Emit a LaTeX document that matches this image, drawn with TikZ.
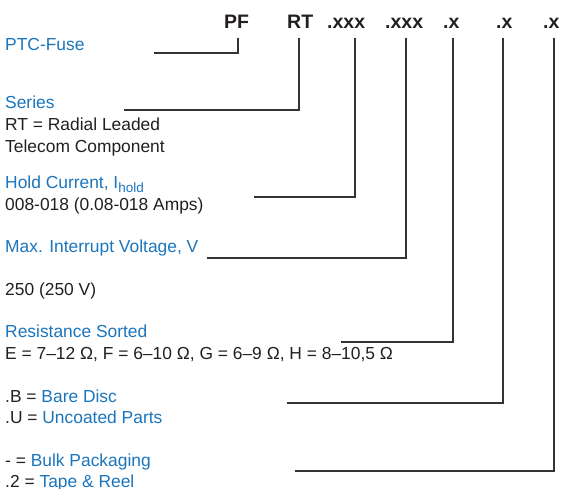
\documentclass[tikz,border=0pt]{standalone}
\usepackage{fontspec}
\setmainfont{Liberation Sans}
\definecolor{textblue}{HTML}{1B75BC}
\definecolor{textblack}{HTML}{231F20}
\definecolor{linegray}{HTML}{333333}
\begin{document}
\begin{tikzpicture}[x=1pt,y=-1pt,
  lblblue/.style={anchor=base west, inner sep=0pt, font=\fontsize{17.4}{20}\selectfont, text=textblue},
  lblblack/.style={anchor=base west, inner sep=0pt, font=\fontsize{17.4}{20}\selectfont, text=textblack},
  hdr/.style={anchor=base west, inner sep=0pt, font=\fontsize{19.5}{22}\selectfont\bfseries, text=textblack},
  conn/.style={draw=linegray, line width=1.3pt}]
\useasboundingbox (0,0) rectangle (561,488);
% header
\node[hdr] (hPF) at (224,28) {PF};
\node[hdr] (hRT) at (287,28) {RT};
\node[hdr] (hA) at (327,28) {.xxx};
\node[hdr] (hB) at (385,28) {.xxx};
\node[hdr] (hC) at (443,28) {.x};
\node[hdr] (hD) at (496,28) {.x};
\node[hdr] (hE) at (543,28) {.x};
% labels
\node[lblblue] (fuse) at (5,50) {PTC-Fuse};
\node[lblblue] (series) at (5,108) {Series};
\node[lblblack] (rt) at (5,130) {RT = Radial Leaded};
\node[lblblack] (tel) at (5,152) {Telecom Component};
\node[lblblue] (hold) at (5,188) {Hold Current, I\raisebox{-4pt}{\fontsize{13.5}{13}\selectfont hold}};
\node[lblblack] (holdv) at (5,210) {008-018 (0.08-018 Amps)};
\node[lblblue] (volt) at (5,252) {Max. Interrupt Voltage, V};
\node[lblblack] (voltv) at (5,295) {250 (250 V)};
\node[lblblue] (res) at (5,337) {Resistance Sorted};
\node[lblblack] (resv) at (5,359) {E = 7–12 Ω, F = 6–10 Ω, G = 6–9 Ω, H = 8–10,5 Ω};
\node[lblblack] (bare) at (5,402) {.B = \textcolor{textblue}{Bare Disc}};
\node[lblblack] (unc) at (5,423) {.U = \textcolor{textblue}{Uncoated Parts}};
\node[lblblack] (bulk) at (5,466) {- = \textcolor{textblue}{Bulk Packaging}};
\node[lblblack] (tape) at (5,487) {.2 = \textcolor{textblue}{Tape \& Reel}};
% connector ends
\coordinate (tPF) at (238,38);  \coordinate (ePF) at (154,53);
\coordinate (tRT) at (299,38);  \coordinate (eRT) at (124,110);
\coordinate (tA) at (355,38);   \coordinate (eA) at (254,197);
\coordinate (tB) at (406,38);   \coordinate (eB) at (207,258);
\coordinate (tC) at (453,38);   \coordinate (eC) at (341,342);
\coordinate (tD) at (503,38);   \coordinate (eD) at (287,403);
\coordinate (tE) at (554,38);   \coordinate (eE) at (295,471);
\draw[conn] (tPF) |- (ePF);
\draw[conn] (tRT) |- (eRT);
\draw[conn] (tA) |- (eA);
\draw[conn] (tB) |- (eB);
\draw[conn] (tC) |- (eC);
\draw[conn] (tD) |- (eD);
\draw[conn] (tE) |- (eE);
\end{tikzpicture}
\end{document}
